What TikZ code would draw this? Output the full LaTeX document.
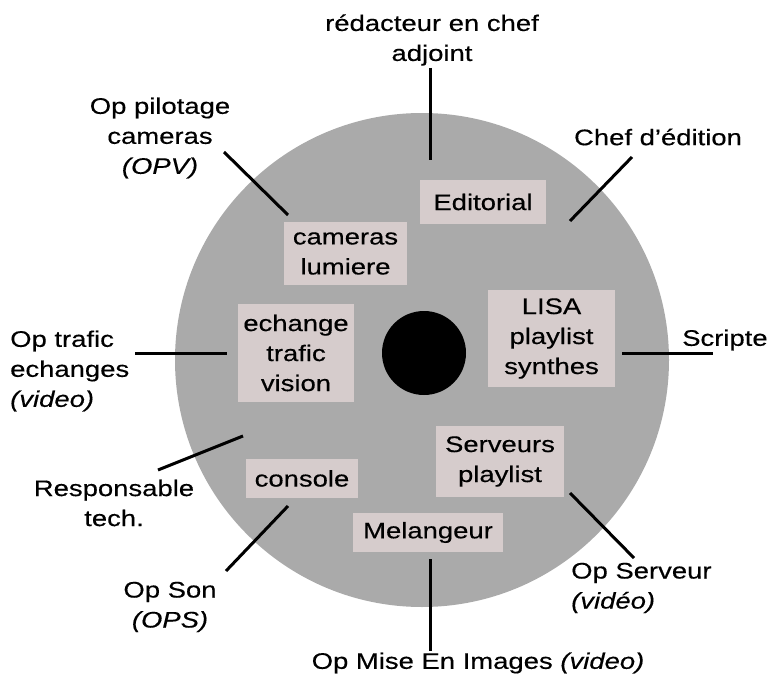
\documentclass[tikz,border=0pt]{standalone}
\usepackage{fontspec}
\setmainfont{Liberation Sans}[FakeStretch=1.22,FakeBold=0.35]
\definecolor{discgray}{RGB}{170,170,170}
\definecolor{boxfill}{RGB}{214,204,204}
\begin{document}
\begin{tikzpicture}[x=1pt,y=-1pt,
  txt/.style={font=\fontsize{22.5}{30}\selectfont, inner sep=0pt, align=center},
  txtl/.style={font=\fontsize{22.5}{30}\selectfont, inner sep=0pt, align=left, anchor=west},
  roombox/.style={fill=boxfill, inner sep=0pt, align=center, font=\fontsize{22.5}{30}\selectfont},
  conn/.style={line width=3pt}]
\useasboundingbox (0,0) rectangle (772,677);
% disc and hub
\node[circle, fill=discgray, minimum size=494pt, inner sep=0pt] (disc) at (422,360) {};
\node[circle, fill=black, minimum size=84pt, inner sep=0pt] (hub) at (424,353) {};
% boxes
\node[roombox, minimum width=126pt, minimum height=44pt] (edit) at (483,202) {Editorial};
\node[roombox, minimum width=123pt, minimum height=63pt] (cam) at (345.5,253.5) {cameras\\lumiere};
\node[roombox, minimum width=127pt, minimum height=97pt] (lisa) at (551.5,338.5) {LISA\\playlist\\synthes};
\node[roombox, minimum width=116pt, minimum height=98pt] (echg) at (296,353) {echange\\trafic\\vision};
\node[roombox, minimum width=112pt, minimum height=39pt] (cons) at (302,478.5) {console};
\node[roombox, minimum width=128pt, minimum height=71pt] (serv) at (500,461.5) {Serveurs\\playlist};
\node[roombox, minimum width=150pt, minimum height=39pt] (mel) at (428,532.5) {Melangeur};
% labels
\node[txt] (redac) at (432,40) {rédacteur en chef\\adjoint};
\node[txt] (pilot) at (160,138) {Op pilotage\\cameras\\\textit{(OPV)}};
\node[txt] (chef) at (658,137) {Chef d'édition};
\node[txtl] (trafic) at (10,371) {Op trafic\\echanges\\\textit{(video)}};
\node[txtl] (scripte) at (682,340) {Scripte};
\node[txt] (resp) at (114,503) {Responsable\\tech.};
\node[txt] (opson) at (170,607) {Op Son\\\textit{(OPS)}};
\node[txtl] (opserv) at (571,588) {Op Serveur\\\textit{(vidéo)}};
\node[txt] (opmise) at (478,663) {Op Mise En Images \textit{(video)}};
% connector ends
\coordinate (r1) at (430,68);  \coordinate (r2) at (430,160);
\coordinate (p1) at (224,152); \coordinate (p2) at (288,215);
\coordinate (c1) at (632,157); \coordinate (c2) at (570,221);
\coordinate (t1) at (135,353); \coordinate (t2) at (227,353);
\coordinate (s1) at (622,353); \coordinate (s2) at (713,353);
\coordinate (re1) at (158,470); \coordinate (re2) at (243,436);
\coordinate (o1) at (226,571); \coordinate (o2) at (288,506);
\coordinate (v1) at (570,493); \coordinate (v2) at (634,558);
\coordinate (m1) at (430,559); \coordinate (m2) at (430,651);
\draw[conn] (r1) -- (r2);
\draw[conn] (p1) -- (p2);
\draw[conn] (c1) -- (c2);
\draw[conn] (t1) -- (t2);
\draw[conn] (s1) -- (s2);
\draw[conn] (re1) -- (re2);
\draw[conn] (o1) -- (o2);
\draw[conn] (v1) -- (v2);
\draw[conn] (m1) -- (m2);
\end{tikzpicture}
\end{document}
